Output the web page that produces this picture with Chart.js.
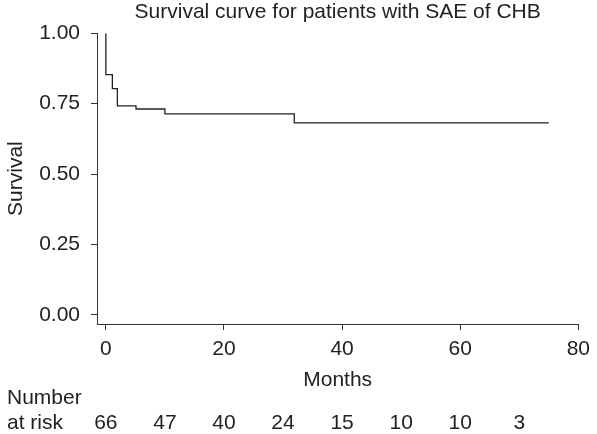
<!DOCTYPE html>
<html>
<head>
<meta charset="utf-8">
<script src="https://cdn.jsdelivr.net/npm/chart.js@4.4.1/dist/chart.umd.min.js"></script>
<style>
    html, body { margin: 0; padding: 0; background: #fff; }
</style>
</head>
<body>
<canvas id="kmChart" width="597" height="434"></canvas>
<script>
// Kaplan-Meier steps
var months = [0, 0, 1.1, 1.95, 5.1, 10.0, 31.9, 75]
var survival = [1.0, 0.853, 0.803, 0.742, 0.731, 0.714, 0.682, 0.682]
var xTicks = [0, 20, 40, 60, 80]
var yTicks = [0, 0.25, 0.5, 0.75, 1]
// number at risk row
var riskMonths = [0, 10, 20, 30, 40, 50, 60, 70]
var riskCounts = [66, 47, 40, 24, 15, 10, 10, 3]

var textColor = '#222'
var fontFamily = '"Liberation Sans", Arial, Helvetica, sans-serif'
Chart.defaults.font.family = fontFamily
Chart.defaults.font.size = 21
Chart.defaults.color = textColor

var points = []
for (let i in months) {
    points.push({x: months[i], y: survival[i]})
}

// draws the "Number at risk" table under the x axis
const riskTable = {
    id: 'riskTable',
    afterDraw: function(chart) {
        var ctx = chart.ctx
        var xScale = chart.scales.x
        var base = chart.chartArea.bottom
        ctx.save()
        ctx.fillStyle = textColor
        ctx.font = '21px ' + fontFamily
        ctx.textBaseline = 'middle'
        ctx.textAlign = 'left'
        ctx.fillText('Number', 7, base + 74)
        ctx.fillText('at risk', 7, base + 99)
        ctx.textAlign = 'center'
        for (let i in riskMonths) {
            ctx.fillText(String(riskCounts[i]), xScale.getPixelForValue(riskMonths[i]), base + 99)
        }
        ctx.restore()
    }
}

const config_km = {
    type: 'line',
    data: {
        datasets: [{
            label: 'Survival',
            data: points,
            stepped: 'before',
            borderColor: '#222',
            borderWidth: 1.3,
            pointRadius: 0,
            fill: false
        }]
    },
    options: {
        responsive: false,
        animation: false,
        devicePixelRatio: 1,
        layout: { padding: { left: 0, right: 14, top: 0, bottom: 41 } },
        plugins: {
            legend: { display: false },
            tooltip: { enabled: false },
            title: {
                display: true,
                text: 'Survival curve for patients with SAE of CHB',
                fullSize: false,
                color: textColor,
                font: { size: 21, weight: 'normal' },
                padding: { top: 0, bottom: 8 }
            }
        },
        scales: {
            x: {
                type: 'linear',
                min: -1.5,
                max: 80,
                afterBuildTicks: function(scale) {
                    scale.ticks = xTicks.map(v => ({value: v}))
                },
                afterFit: function(scale) { scale.height = 69 },
                grid: { drawOnChartArea: false, drawTicks: true, tickLength: 6, color: '#333' },
                border: { display: true, color: '#333', width: 1 },
                ticks: { padding: 7, color: textColor, maxRotation: 0 },
                title: { display: true, text: 'Months', color: textColor, padding: { top: 0, bottom: 0 } }
            },
            y: {
                type: 'linear',
                min: -0.032,
                max: 1.0,
                afterBuildTicks: function(scale) {
                    scale.ticks = yTicks.map(v => ({value: v}))
                },
                afterFit: function(scale) { scale.width = 97 },
                grid: { drawOnChartArea: false, drawTicks: true, tickLength: 6, color: '#333' },
                border: { display: true, color: '#333', width: 1 },
                ticks: {
                    padding: 11,
                    color: textColor,
                    callback: function(value) { return value.toFixed(2) }
                },
                title: { display: true, text: 'Survival', color: textColor, padding: { top: 4, bottom: 4 } }
            }
        }
    },
    plugins: [riskTable]
}

const kmChart = new Chart(document.getElementById('kmChart'), config_km)
</script>
</body>
</html>
